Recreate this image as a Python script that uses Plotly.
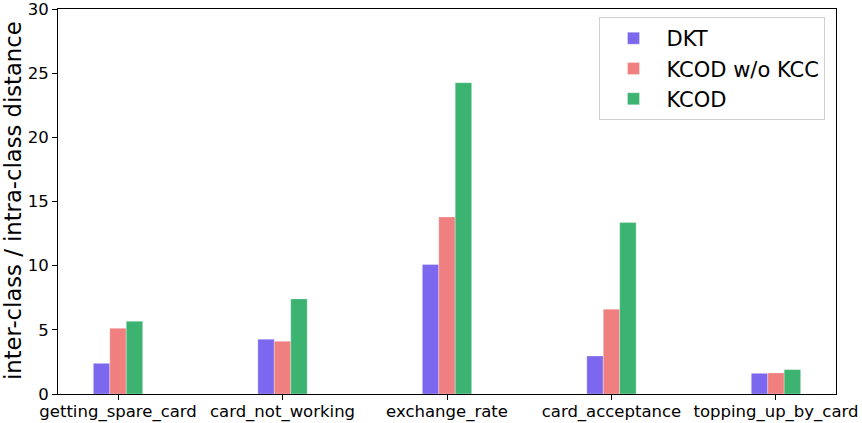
import plotly.graph_objects as go

# intent categories on the x axis
categories = [
    "getting_spare_card",
    "card_not_working",
    "exchange_rate",
    "card_acceptance",
    "topping_up_by_card",
]

# inter-class / intra-class distance ratio per model
dkt = [2.39, 4.27, 10.09, 2.96, 1.61]
kcod_wo_kcc = [5.12, 4.11, 13.8, 6.61, 1.64]
kcod = [5.67, 7.41, 24.26, 13.36, 1.9]

y_ticks = [0, 5, 10, 15, 20, 25, 30]

series = [
    ("DKT", dkt, "#7b68ee"),
    ("KCOD w/o KCC", kcod_wo_kcc, "#f08080"),
    ("KCOD", kcod, "#3cb371"),
]

fig = go.Figure()
for name, vals, color in series:
    fig.add_trace(
        go.Bar(
            x=categories,
            y=vals,
            name=name,
            marker=dict(color=color, line=dict(color="rgba(255,255,255,0.5)", width=0.6)),
        )
    )

axis_font = dict(family="DejaVu Sans", size=16.5, color="black")
fig.update_layout(
    width=862,
    height=423,
    barmode="group",
    bargap=0.7,
    bargroupgap=0,
    plot_bgcolor="white",
    paper_bgcolor="white",
    margin=dict(l=58, r=26, t=9, b=29),
    font=axis_font,
    legend=dict(
        x=0.696,
        y=0.979,
        xanchor="left",
        yanchor="top",
        font=dict(family="DejaVu Sans", size=21, color="black"),
        bordercolor="#d0d0d0",
        borderwidth=1,
        bgcolor="rgba(255,255,255,0.8)",
        itemwidth=56,
        tracegroupgap=4,
    ),
    xaxis=dict(
        range=[-0.365, 4.365],
        automargin=False,
        showline=True,
        linecolor="black",
        linewidth=1,
        mirror=True,
        ticks="outside",
        ticklen=5,
        tickcolor="black",
        showgrid=False,
        tickfont=axis_font,
        ticklabeloverflow="allow",
        ticklabelstandoff=-3,
    ),
    yaxis=dict(
        range=[0, 30],
        tickvals=y_ticks,
        automargin=False,
        showline=True,
        linecolor="black",
        linewidth=1,
        mirror=True,
        ticks="outside",
        ticklen=5,
        tickcolor="black",
        showgrid=False,
        zeroline=False,
        tickfont=axis_font,
        ticklabeloverflow="allow",
    ),
)

# y axis title placed by hand, matplotlib puts it close to the edge
fig.add_annotation(
    text="inter-class / intra-class distance",
    xref="paper",
    yref="paper",
    x=-0.057,
    y=0.503,
    xanchor="center",
    yanchor="middle",
    textangle=-90,
    showarrow=False,
    font=dict(family="DejaVu Sans", size=22.7, color="black"),
)

# drop the default body margin so the figure fills the window exactly
fig.write_html(
    "out.html",
    config={"displayModeBar": False},
    post_script="document.body.style.margin='0';document.body.style.overflow='hidden';",
)
